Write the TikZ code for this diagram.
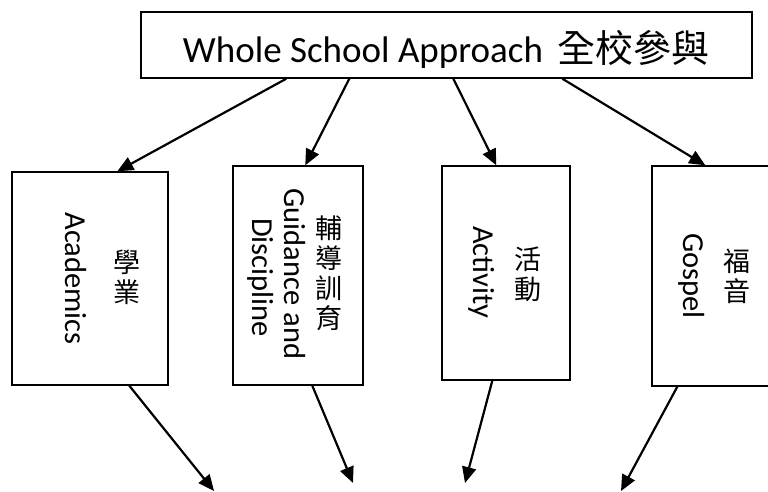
\documentclass[tikz,border=0pt]{standalone}
\usepackage{fontspec}
\setmainfont{Carlito}
\newfontfamily\cjk{Noto Sans CJK TC}
\usetikzlibrary{arrows.meta}
\begin{document}
\begin{tikzpicture}[x=1pt,y=1pt,
  box/.style={draw, line width=1.4pt, inner sep=0pt},
  arr/.style={line width=2.2pt, -{Triangle[length=16pt,width=14pt]}},
  vtxt/.style={rotate=-90, inner sep=0pt, font=\fontsize{30.5}{34}\selectfont},
  ctxt/.style={inner sep=0pt, align=center, font=\cjk\fontsize{27}{30}\selectfont}]
\useasboundingbox (0,0) rectangle (768,-492);
% top box
\node[box, minimum width=611pt, minimum height=66pt] (top) at (446.5,-45) {};
\node[inner sep=0pt, anchor=base, font=\fontsize{37}{44}\selectfont] (toptext) at (446,-63)
  {Whole School Approach\hspace{14pt}{\cjk\fontsize{38}{44}\selectfont 全校參與}};
% lower boxes
\node[box, minimum width=156pt, minimum height=213pt] (acad) at (90,-278.5) {};
\node[box, minimum width=130pt, minimum height=219pt] (guid) at (298,-275.5) {};
\node[box, minimum width=128pt, minimum height=214pt] (act) at (506,-273) {};
\node[box, minimum width=123pt, minimum height=220pt] (gos) at (713.5,-276) {};
% texts
\node[vtxt] (acadE) at (76,-278.5) {Academics};
\node[ctxt] (acadC) at (127,-277.5) {學\\業};
\node[vtxt] (guidE1) at (295,-274) {Guidance and};
\node[vtxt] (guidE2) at (261,-277.5) {Discipline};
\node[ctxt] (guidC) at (329,-273) {輔\\導\\訓\\育};
\node[vtxt] (actE) at (482,-272.5) {Activity};
\node[ctxt] (actC) at (528,-274.5) {活\\動};
\node[vtxt] (gosE) at (692,-276) {Gospel};
\node[ctxt] (gosC) at (737,-276.5) {福\\音};
% arrows from top
\draw[arr] ([xshift=146pt]top.south west) -- ([xshift=106pt]acad.north west);
\draw[arr] ([xshift=209pt]top.south west) -- ([xshift=73pt]guid.north west);
\draw[arr] ([xshift=313pt]top.south west) -- ([xshift=55pt]act.north west);
\draw[arr] ([xshift=422pt]top.south west) -- ([xshift=54pt]gos.north west);
% free ends
\coordinate (e1) at (214,-491);
\coordinate (e2) at (353,-483);
\coordinate (e3) at (465,-483);
\coordinate (e4) at (621,-491);
\draw[arr] ([xshift=118pt]acad.south west) -- (e1);
\draw[arr] ([xshift=80pt]guid.south west) -- (e2);
\draw[arr] ([xshift=51pt]act.south west) -- (e3);
\draw[arr] ([xshift=26pt]gos.south west) -- (e4);
\end{tikzpicture}
\end{document}
